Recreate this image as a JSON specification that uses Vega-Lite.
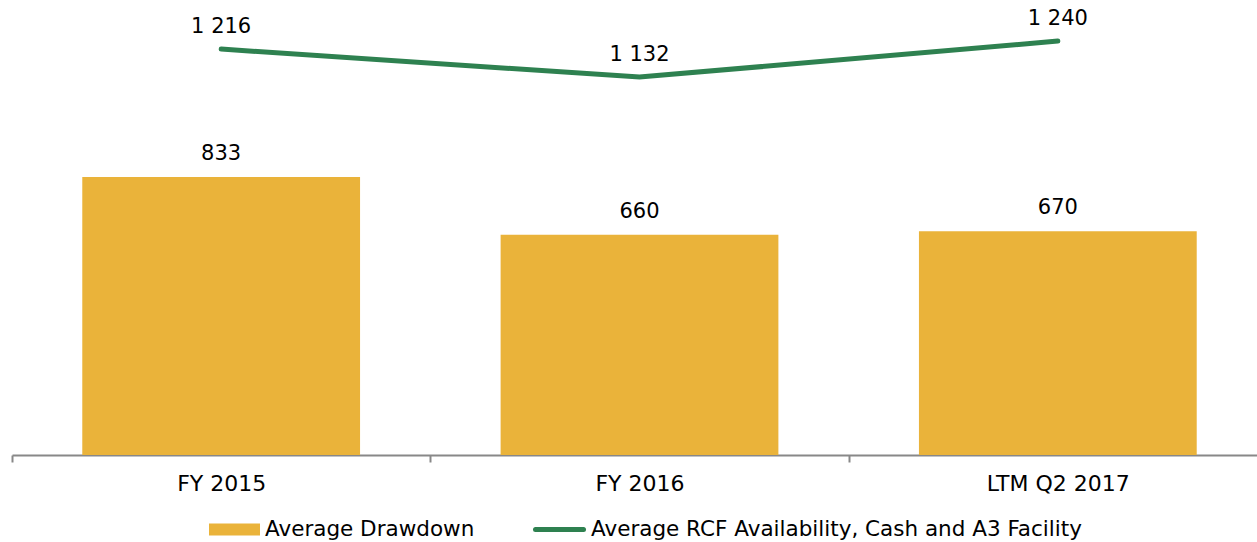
{
  "$schema": "https://vega.github.io/schema/vega-lite/v6.json",
  "width": 1245,
  "height": 450,
  "autosize": {"type": "none"},
  "padding": {"left": 12, "top": 5, "right": 0, "bottom": 87},
  "config": {
    "view": {"stroke": null},
    "font": "DejaVu Sans",
    "text": {"font": "DejaVu Sans", "fontSize": 21, "fill": "#000000"}
  },
  "data": {
    "values": [
      {"period": "FY 2015", "drawdown": 833, "availability": 1216, "dlabel": "833", "alabel": "1 216", "s1": "Average Drawdown", "s2": "Average RCF Availability, Cash and A3 Facility"},
      {"period": "FY 2016", "drawdown": 660, "availability": 1132, "dlabel": "660", "alabel": "1 132", "s1": "Average Drawdown", "s2": "Average RCF Availability, Cash and A3 Facility"},
      {"period": "LTM Q2 2017", "drawdown": 670, "availability": 1240, "dlabel": "670", "alabel": "1 240", "s1": "Average Drawdown", "s2": "Average RCF Availability, Cash and A3 Facility"}
    ]
  },
  "encoding": {
    "x": {
      "field": "period",
      "type": "nominal",
      "sort": null,
      "scale": {"paddingInner": 0.336, "paddingOuter": 0.168, "range": [0, 1255]},
      "axis": {
        "title": null,
        "labelAngle": 0,
        "labelFont": "DejaVu Sans",
        "labelFontSize": 22,
        "labelColor": "#000000",
        "labelPadding": 11,
        "labelOffset": 209.17,
        "domainColor": "#888888",
        "domainWidth": 2,
        "tickColor": "#888888",
        "tickWidth": 2,
        "tickSize": 7,
        "tickOffset": -209.17,
        "grid": false
      }
    }
  },
  "layer": [
    {
      "mark": {"type": "bar", "color": "#EAB33A"},
      "encoding": {
        "y": {"field": "drawdown", "type": "quantitative", "scale": {"domain": [0, 1348], "nice": false, "zero": true}, "axis": null},
        "fill": {
          "field": "s1",
          "type": "nominal",
          "scale": {"range": ["#EAB33A"]},
          "legend": {
            "title": null,
            "orient": "none",
            "legendX": 197,
            "legendY": 499,
            "padding": 0,
            "symbolType": "M-1,-0.235H1V0.235H-1Z",
            "symbolSize": 2601,
            "symbolStrokeWidth": 0,
            "labelFont": "DejaVu Sans",
            "labelFontSize": 21.5,
            "labelColor": "#000000",
            "labelOffset": 5,
            "labelLimit": 1000
          }
        }
      }
    },
    {
      "mark": {"type": "text", "baseline": "alphabetic", "dy": -17},
      "encoding": {
        "y": {"field": "drawdown", "type": "quantitative", "scale": {"domain": [0, 1348], "nice": false, "zero": true}, "axis": null},
        "text": {"field": "dlabel"}
      }
    },
    {
      "mark": {"type": "line", "strokeWidth": 5, "strokeCap": "round", "strokeJoin": "miter"},
      "encoding": {
        "y": {"field": "availability", "type": "quantitative", "scale": {"domain": [0, 1348], "nice": false, "zero": true}, "axis": null},
        "stroke": {
          "field": "s2",
          "type": "nominal",
          "scale": {"range": ["#2E8150"]},
          "legend": {
            "title": null,
            "orient": "none",
            "legendX": 521,
            "legendY": 498,
            "padding": 0,
            "symbolType": "M-1,0H1",
            "symbolSize": 2304,
            "symbolStrokeWidth": 5,
            "labelFont": "DejaVu Sans",
            "labelFontSize": 21.5,
            "labelColor": "#000000",
            "labelOffset": 5,
            "labelLimit": 1000,
            "encode": {"symbols": {"update": {"strokeCap": {"value": "round"}}}}
          }
        }
      }
    },
    {
      "mark": {"type": "text", "baseline": "alphabetic", "dy": -16},
      "encoding": {
        "y": {"field": "availability", "type": "quantitative", "scale": {"domain": [0, 1348], "nice": false, "zero": true}, "axis": null},
        "text": {"field": "alabel"}
      }
    }
  ]
}
